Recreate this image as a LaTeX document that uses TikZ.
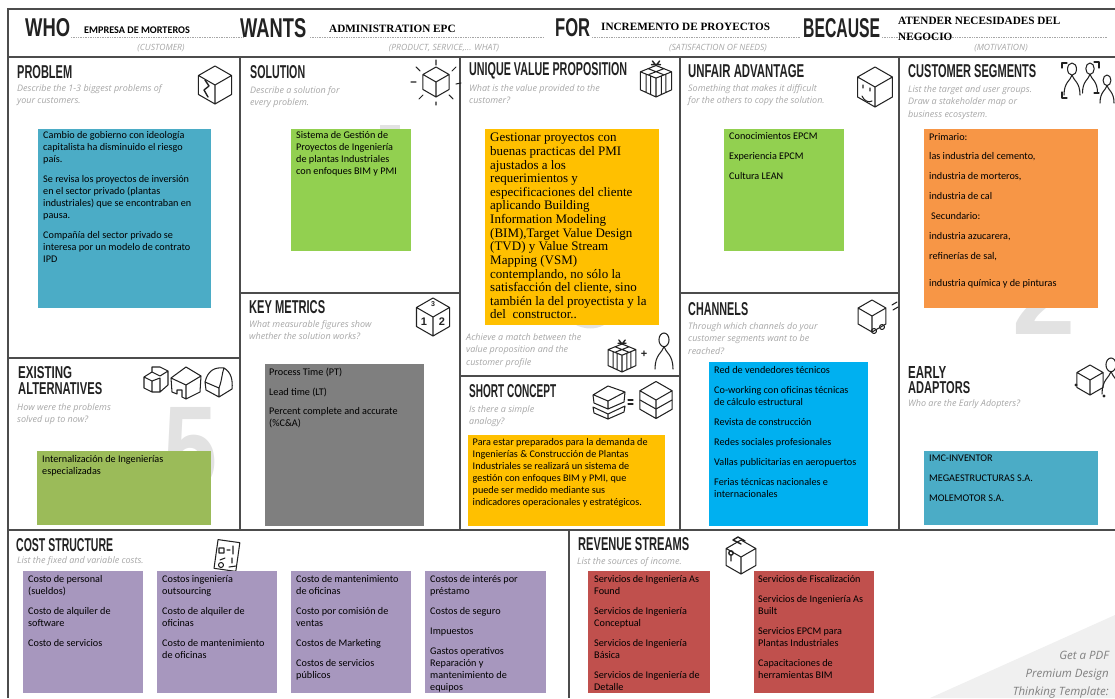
\documentclass[tikz,border=0pt]{standalone}
\usepackage{fontspec}
\usepackage{graphicx}
\setmainfont{Carlito}
\newfontfamily\handf{Liberation Sans}
\newfontfamily\hintf{Open Sans}
\newfontfamily\serf{Liberation Serif}
\definecolor{gridc}{HTML}{4C4C4C}
\definecolor{hintc}{HTML}{A6A6A6}
\definecolor{inkc}{HTML}{222222}
\definecolor{wmc}{HTML}{E2E2E2}
\definecolor{nblue}{HTML}{4BACC6}
\definecolor{ngreen}{HTML}{92D050}
\definecolor{nolive}{HTML}{9BBB59}
\definecolor{nyellow}{HTML}{FFC000}
\definecolor{norange}{HTML}{F79646}
\definecolor{ngrey}{HTML}{7F7F7F}
\definecolor{ncyan}{HTML}{00B0F0}
\definecolor{npurple}{HTML}{A797BE}
\definecolor{nred}{HTML}{C0504D}
\tikzset{
 gridline/.style={draw=gridc,line width=1.7pt},
 dotline/.style={draw=hintc,line width=.7pt,densely dotted},
 ic/.style={draw=inkc,line width=1.05pt,line join=round,line cap=round},
 notebox/.style={anchor=north west,inner sep=0pt,outer sep=0pt,draw=none},
 notetext/.style={anchor=north west,inner sep=0pt,align=left,text=black,font=\fontsize{10.2}{12}\selectfont},
 sertext/.style={anchor=north west,inner sep=0pt,align=left,text=black,font=\serf\fontsize{13}{13.62}\selectfont},
 hint/.style={anchor=north west,inner sep=0pt,align=left,text=hintc,font=\hintf\itshape\fontsize{9}{12.6}\selectfont},
 capt/.style={inner sep=0pt,text=hintc,font=\hintf\itshape\fontsize{8.6}{10}\selectfont},
 headval/.style={anchor=west,inner sep=0pt,align=left,text=black},
 head/.style={anchor=west,inner sep=0pt,text=inkc},
}
\newcommand{\hd}[6]{\node[head] (#1) at (#2,#3) {\resizebox{#4pt}{#5pt}{\handf\bfseries #6}};}
\newcommand{\nt}[7]{\node[notebox,fill=#6,minimum width=#4pt-#2pt,minimum height=#5pt-#3pt] (#1) at (#2,#3) {};}
\newcommand{\cubeic}[3]{\draw[ic,shift={(#1,#2)},scale=#3] (0,-1)--(.87,-.5)--(.87,.5)--(0,1)--(-.87,.5)--(-.87,-.5)--cycle (-.87,-.5)--(0,0)--(.87,-.5) (0,0)--(0,1);}
\newcommand{\personic}[3]{\draw[ic,shift={(#1,#2)},scale=#3] (0,-.62) ellipse (.28 and .38) (0,-.24) .. controls (-.1,.1) and (-.5,.2) .. (-.5,1) (0,-.24) .. controls (.1,.1) and (.5,.2) .. (.5,1);}
\newcommand{\giftic}[3]{\begin{scope}[shift={(#1,#2)},scale=#3]
 \draw[ic] (0,-.75)--(.87,-.4)--(.87,.6)--(0,1)--(-.87,.6)--(-.87,-.4)--cycle (-.87,-.4)--(0,-.05)--(.87,-.4) (0,-.05)--(0,1)
 (-.55,-.27)--(-.55,.74) (-.3,-.17)--(-.3,.87) (.55,-.27)--(.55,.74) (.3,-.17)--(.3,.87) (-.45,-.58)--(.4,-.25) (.45,-.58)--(-.4,-.25);
 \draw[ic,line width=1.4pt] (0,-.75)--(-.2,-1) (0,-.75)--(.2,-1) (-.25,-.8)--(.25,-.8);
\end{scope}}
\begin{document}
\begin{tikzpicture}[x=1pt,y=-1pt]
\useasboundingbox (0,0) rectangle (1115,698);
\begin{scope}
\clip (0,0) rectangle (1115,698);
% corner triangle
\fill[black!6] (1115,615) -- (930,698) -- (1115,698) -- cycle;
% watermark digits
\node[inner sep=0,text=wmc,anchor=north west] (wmfive) at (163,407) {\resizebox{54pt}{82pt}{\handf\bfseries 5}};
\node[inner sep=0,text=wmc,anchor=north west] (wmtwo) at (1012,254) {\resizebox{63pt}{80pt}{\handf\bfseries 2}};
\fill[wmc] (380,125) rectangle (400,130);
\fill[wmc] (574,324) .. controls (585,330) and (596,330) .. (606,324) -- cycle;
% grid
\draw[gridline] (1115,9) -- (8,9) -- (8,698);
\draw[gridline] (8,57) -- (1115,57);
\draw[gridline] (8,530) -- (1115,530);
\draw[gridline] (240,57) -- (240,530);
\draw[gridline] (460,57) -- (460,530);
\draw[gridline] (680,57) -- (680,530);
\draw[gridline] (899,57) -- (899,530);
\draw[gridline] (8,358) -- (240,358);
\draw[gridline] (240,293) -- (460,293);
\draw[gridline] (460,376) -- (680,376);
\draw[gridline] (680,293) -- (899,293);
\draw[gridline] (569,530) -- (569,698);
% header dotted lines
\draw[dotline] (71,37.5) -- (243,37.5);
\draw[dotline] (310,37.5) -- (543,37.5);
\draw[dotline] (592,37.5) -- (801,37.5);
\draw[dotline] (882,37.5) -- (1107,37.5);
% header words
\hd{who}{25}{28}{45}{18}{WHO}
\hd{wants}{240}{28}{66}{19}{WANTS}
\hd{for}{555}{28}{35}{18}{FOR}
\hd{because}{803}{28}{77}{19}{BECAUSE}
\node[headval,font=\bfseries\fontsize{10.2}{12}\selectfont] (whov) at (84,30) {EMPRESA DE MORTEROS};
\node[headval,font=\serf\bfseries\fontsize{11.2}{13}\selectfont] (wantsv) at (329,29) {ADMINISTRATION EPC};
\node[headval,font=\serf\bfseries\fontsize{11.2}{13}\selectfont] (forv) at (601,27) {INCREMENTO DE PROYECTOS};
\node[headval,font=\serf\bfseries\fontsize{11.2}{16}\selectfont] (becv) at (898,29) {ATENDER NECESIDADES DEL\\NEGOCIO};
\node[capt] (whoc) at (161,48) {(CUSTOMER)};
\node[capt] (wantsc) at (444,48) {(PRODUCT, SERVICE,... WHAT)};
\node[capt] (forc) at (718,48) {(SATISFACTION OF NEEDS)};
\node[capt] (becc) at (1001,48) {(MOTIVATION)};
% panel headings
\hd{hprob}{17}{72}{55}{13}{PROBLEM}
\hd{hsol}{250}{72}{55}{13}{SOLUTION}
\hd{huvp}{469}{71}{158}{13}{UNIQUE VALUE PROPOSITION}
\hd{huna}{688}{71}{116}{13}{UNFAIR ADVANTAGE}
\hd{hcus}{908}{71}{128}{13}{CUSTOMER SEGMENTS}
\hd{hkey}{249}{307}{76}{13}{KEY METRICS}
\hd{hex}{18}{373}{54}{12}{EXISTING}
\hd{halt}{18}{389}{84}{12}{ALTERNATIVES}
\hd{hcha}{688}{309}{60}{13}{CHANNELS}
\hd{hsho}{469}{391}{87}{13}{SHORT CONCEPT}
\hd{hear}{908}{372}{38}{12}{EARLY}
\hd{hada}{908}{388}{62}{12}{ADAPTORS}
\hd{hcos}{16}{545}{97}{13}{COST STRUCTURE}
\hd{hrev}{578}{544}{111}{13}{REVENUE STREAMS}
% hints
\node[hint] (t1) at (17,84) {Describe the 1-3 biggest problems of\\your customers.};
\node[hint] (t2) at (250,86) {Describe a solution for\\every problem.};
\node[hint] (t3) at (469,84) {What is the value provided to the\\customer?};
\node[hint] (t4) at (688,84) {Something that makes it difficult\\for the others to copy the solution.};
\node[hint] (t5) at (908,85) {List the target and user groups.\\Draw a stakeholder map or\\business ecosystem.};
\node[hint] (t6) at (249,320) {What measurable figures show\\whether the solution works?};
\node[hint] (t7) at (17,403) {How were the problems\\solved up to now?};
\node[hint] (t8) at (466,333) {Achieve a match between the\\value proposition and the\\customer profile};
\node[hint] (t9) at (469,405) {Is there a simple\\analogy?};
\node[hint] (t10) at (688,322) {Through which channels do your\\customer segments want to be\\reached?};
\node[hint] (t11) at (908,399) {Who are the Early Adopters?};
\node[hint] (t12) at (17,556) {List the fixed and variable costs.};
\node[hint] (t13) at (577,557) {List the sources of income.};
% icons
\cubeic{215}{85}{19}
\draw[ic,line width=1.4pt] (205,80) -- (209,86) -- (204,90) -- (208,97);
\cubeic{436}{82}{15}
\draw[ic] (436,60)--(436,65) (416,67)--(420,71) (456,67)--(452,71) (411,82)--(416,82) (456,84)--(461,83) (419,99)--(423,95) (453,99)--(449,95) (436,102)--(436,105);
\giftic{656}{79}{18}
\cubeic{875}{87}{20}
\draw[ic] (863,85)--(863,88) (870,88)--(870,91) (862,96) .. controls (864,101) and (869,103) .. (872,101);
\personic{1072}{79}{16}
\personic{1090}{78}{15}
\personic{1107}{89}{14}
\draw[ic] (1062,68)--(1062,63)--(1067,63) (1099,68)--(1099,62)--(1094,62) (1062,92)--(1062,98)--(1067,98) (1099,93)--(1094,93);
\cubeic{433}{317}{19}
\node[inner sep=0,text=inkc,font=\handf\bfseries\fontsize{11}{11}\selectfont] (ka) at (424,322) {1};
\node[inner sep=0,text=inkc,font=\handf\bfseries\fontsize{11}{11}\selectfont] (kb) at (442,322) {2};
\node[inner sep=0,text=inkc,font=\handf\bfseries\fontsize{7}{7}\selectfont] (kc) at (433,304) {3};
% existing icons
\draw[ic] (144,377)--(152,372)--(152,367)--(160,367)--(168,371)--(168,385)--(160,392)--(152,392)--(144,388)--cycle (144,377)--(152,381)--(160,378)--(160,392) (152,372)--(160,376)--(168,371) (152,381)--(152,392);
\draw[ic] (171,378)--(186,367)--(201,376)--(200,392)--(186,399)--(182,397)--(182,390)--(177,390)--(177,394)--(172,392)--cycle (171,378)--(186,385)--(201,376) (186,385)--(186,399);
\draw[ic] (205,382) .. controls (208,370) and (215,367) .. (224,368) .. controls (231,372) and (233,380) .. (232,389) -- (219,397) -- (206,390) -- cycle (205,382) -- (219,388) -- (219,397) (219,388) .. controls (222,380) and (222,373) .. (224,368);
% match icons
\giftic{622}{356}{16}
\node[inner sep=0,text=inkc,font=\handf\bfseries\fontsize{11}{11}\selectfont] (plus) at (644,354) {+};
\personic{664}{351}{18}
% short concept icons
\draw[ic] (593,395)--(608,386)--(625,392)--(624,402)--(608,409)--(594,403)--cycle (594,395)--(608,401)--(625,392) (608,401)--(608,409);
\draw[ic] (593,407)--(608,414)--(625,406)--(624,412)--(608,419)--(594,413)--cycle (608,414)--(608,419);
\draw[ic] (628,400)--(633,400) (628,404)--(633,404);
\cubeic{656}{400}{18.5}
\draw[ic] (640,400)--(656,409)--(672,400);
% channels icon
\cubeic{872}{316}{16}
\draw[ic] (874,331) circle (2.5) (882,327) circle (2.5) (892,305)--(897,302) (893,310)--(898,307);
% early adopters icon
\cubeic{1090}{380}{15}
\personic{1111}{376}{18}
\fill[inkc] (1076,385) circle (1.6) (1104,396) circle (1.6);
% cost icon
\draw[ic,rotate around={-8:(227,555)}] (216,541) rectangle (238,570);
\draw[ic] (219,548) rectangle (224,553) (227,550)--(230,550) (233,546)--(233,554) (220,560)--(225,558) (221,565) circle (2.5) (232,558)--(232,563) (229,567)--(236,566);
% revenue icon
\cubeic{741}{557}{17}
\draw[ic,line width=1.4pt] (741,544)--(733,540)--(738,537)--(745,541) (731,553) circle (2.2) (731,555)--(731,561);
% notes
\nt{nprob}{38}{129}{211}{308}{nblue}{}
\node[notetext] (tprob) at (nprob.north west) [xshift=5pt,yshift=-2pt] {Cambio de gobierno con ideología\\capitalista ha disminuido el riesgo\\país.\\[8pt]Se revisa los proyectos de inversión\\en el sector privado (plantas\\industriales) que se encontraban en\\pausa.\\[8pt]Compañía del sector privado se\\interesa por un modelo de contrato\\IPD};
\nt{nsol}{291}{129}{411}{251}{ngreen}{}
\node[notetext] (tsol) at (nsol.north west) [xshift=5pt,yshift=-2pt] {Sistema de Gestión de\\Proyectos de Ingeniería\\de plantas Industriales\\con enfoques BIM y PMI};
\nt{nuvp}{485}{129}{659}{325}{nyellow}{}
\node[sertext] (tuvp) at (nuvp.north west) [xshift=5pt,yshift=-4pt] {Gestionar proyectos con\\buenas practicas del PMI\\ajustados a los\\requerimientos y\\especificaciones del cliente\\aplicando Building\\Information Modeling\\(BIM),Target Value Design\\(TVD) y Value Stream\\Mapping (VSM)\\contemplando, no sólo la\\satisfacción del cliente, sino\\también la del proyectista y la\\del\ \ constructor..};
\nt{nuna}{724}{129}{844}{251}{ngreen}{}
\node[notetext] (tuna) at (nuna.north west) [xshift=5pt,yshift=-3pt] {Conocimientos EPCM\\[8pt]Experiencia EPCM\\[8pt]Cultura LEAN};
\nt{ncus}{924}{129}{1098}{308}{norange}{}
\node[notetext] (tcus) at (ncus.north west) [xshift=5pt,yshift=-4pt] {Primario:\\[7.7pt]las industria del cemento,\\[8pt]industria de morteros,\\[8pt]industria de cal\\[8pt]\hspace{2pt}Secundario:\\[7.7pt]industria azucarera,\\[8pt]refinerías de sal,\\[15pt]industria química y de pinturas};
\nt{nexi}{37}{451}{211}{525}{nolive}{}
\node[notetext] (texi) at (nexi.north west) [xshift=5pt,yshift=-4pt] {Internalización de Ingenierías\\especializadas};
\nt{nkey}{265}{364}{424}{526}{ngrey}{}
\node[notetext] (tkey) at (nkey.north west) [xshift=4pt,yshift=-4pt] {Process Time (PT)\\[8pt]Lead time (LT)\\[7pt]Percent complete and accurate\\(\%C\&A)};
\nt{nsho}{468}{435}{665}{526}{nyellow}{}
\node[notetext] (tsho) at (nsho.north west) [xshift=4.5pt,yshift=-3pt] {Para estar preparados para la demanda de\\Ingenierías \& Construcción de Plantas\\Industriales se realizará un sistema de\\gestión con enfoques BIM y PMI, que\\puede ser medido mediante sus\\indicadores operacionales y estratégicos.};
\nt{ncha}{709}{362}{868}{526}{ncyan}{}
\node[notetext] (tcha) at (ncha.north west) [xshift=5pt,yshift=-4pt] {Red de vendedores técnicos\\[8pt]Co-working con oficinas técnicas\\de cálculo estructural\\[8pt]Revista de construcción\\[8pt]Redes sociales profesionales\\[8pt]Vallas publicitarias en aeropuertos\\[8pt]Ferias técnicas nacionales e\\internacionales};
\nt{near}{924}{451}{1098}{525}{nblue}{}
\node[notetext] (tear) at (near.north west) [xshift=5pt,yshift=-4pt] {IMC-INVENTOR\\[7.5pt]MEGAESTRUCTURAS S.A.\\[8pt]MOLEMOTOR S.A.};
\nt{ncoa}{23}{571}{143}{693}{npurple}{}
\node[notetext] (tcoa) at (ncoa.north west) [xshift=5pt,yshift=-4pt] {Costo de personal\\(sueldos)\\[8pt]Costo de alquiler de\\software\\[8pt]Costo de servicios};
\nt{ncob}{157}{571}{277}{693}{npurple}{}
\node[notetext] (tcob) at (ncob.north west) [xshift=5pt,yshift=-4pt] {Costos ingeniería\\outsourcing\\[8pt]Costo de alquiler de\\oficinas\\[8pt]Costo de mantenimiento\\de oficinas};
\nt{ncoc}{291}{571}{411}{693}{npurple}{}
\node[notetext] (tcoc) at (ncoc.north west) [xshift=5pt,yshift=-4pt] {Costo de mantenimiento\\de oficinas\\[8pt]Costo por comisión de\\ventas\\[8pt]Costos de Marketing\\[8pt]Costos de servicios\\públicos};
\nt{ncod}{425}{571}{546}{693}{npurple}{}
\node[notetext] (tcod) at (ncod.north west) [xshift=5pt,yshift=-4pt] {Costos de interés por\\préstamo\\[8pt]Costos de seguro\\[8pt]Impuestos\\[8pt]Gastos operativos\\Reparación y\\mantenimiento de\\equipos};
\nt{nrea}{588}{571}{710}{693}{nred}{}
\node[notetext] (trea) at (nrea.north west) [xshift=6pt,yshift=-4pt] {Servicios de Ingeniería As\\Found\\[8pt]Servicios de Ingeniería\\Conceptual\\[8pt]Servicios de Ingeniería\\Básica\\[8pt]Servicios de Ingeniería de\\Detalle};
\nt{nreb}{754}{571}{874}{693}{nred}{}
\node[notetext] (treb) at (nreb.north west) [xshift=4pt,yshift=-4pt] {Servicios de Fiscalización\\[8pt]Servicios de Ingeniería As\\Built\\[8pt]Servicios EPCM para\\Plantas Industriales\\[8pt]Capacitaciones de\\herramientas BIM};
% promo
\node[anchor=north east,inner sep=0,align=right,text=black!50,font=\hintf\itshape\fontsize{11.5}{18}\selectfont] (promo) at (1109,651) {Get a PDF\\Premium Design\\Thinking Template:};
\end{scope}
\end{tikzpicture}
\end{document}
